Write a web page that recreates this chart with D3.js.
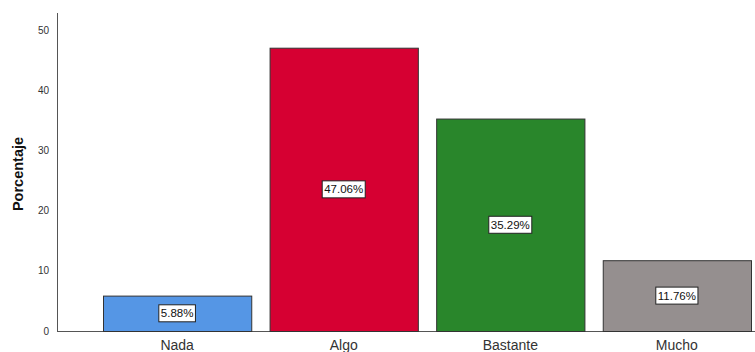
<!DOCTYPE html>
<html><head><meta charset="utf-8">
<script src="https://cdn.jsdelivr.net/npm/d3@7"></script>
<style>body{margin:0;background:#fff}svg{display:block}</style>
</head><body>
<svg id="c" width="755" height="352"></svg>
<script>
const categories = ["Nada", "Algo", "Bastante", "Mucho"];
const values = [5.88, 47.06, 35.29, 11.76];
const colors = ["#5596e5", "#d60032", "#29862b", "#958f8f"];
const yTicks = [0, 10, 20, 30, 40, 50];

const svg = d3.select("#c");
const font = "Arial, 'Liberation Sans', sans-serif";
const x = d3.scaleBand().domain(categories).range([103, 751]).paddingInner(0.11).paddingOuter(0);
const y = d3.scaleLinear().domain([0, 50]).range([331, 30]);

// axes lines
svg.append("line").attr("x1", 57.5).attr("x2", 57.5).attr("y1", 13).attr("y2", 331.5)
  .attr("stroke", "#555").attr("stroke-width", 1);
svg.append("line").attr("x1", 57).attr("x2", 755).attr("y1", 331.5).attr("y2", 331.5)
  .attr("stroke", "#555").attr("stroke-width", 1);

// tick labels
svg.append("g").selectAll("text").data(yTicks).join("text")
  .attr("x", 49).attr("y", d => y(d)).attr("dy", "0.35em")
  .attr("text-anchor", "end").attr("font-family", font).attr("font-size", 10)
  .attr("fill", "#333").text(d => d);

// y title
svg.append("text").attr("transform", "translate(23,174) rotate(-90)")
  .attr("text-anchor", "middle").attr("font-family", font).attr("font-size", 14.5)
  .attr("font-weight", "bold").attr("fill", "#111").text("Porcentaje");

// bars
svg.append("g").selectAll("rect").data(values).join("rect")
  .attr("x", (d, i) => x(categories[i]) + 0.5)
  .attr("y", d => y(d) + 0.5)
  .attr("width", x.bandwidth())
  .attr("height", d => y(0) - y(d))
  .attr("fill", (d, i) => colors[i])
  .attr("stroke", "#333").attr("stroke-width", 1);

// category labels
svg.append("g").selectAll("text").data(categories).join("text")
  .attr("x", d => x(d) + x.bandwidth() / 2).attr("y", 350)
  .attr("text-anchor", "middle").attr("font-family", font).attr("font-size", 14)
  .attr("fill", "#333").text(d => d);

// value labels
const lab = svg.append("g").selectAll("g").data(values).join("g")
  .attr("transform", (d, i) => `translate(${x(categories[i]) + x.bandwidth() / 2},${(y(d) + y(0)) / 2})`);
lab.each(function(d) {
  const g = d3.select(this);
  const t = g.append("text").attr("text-anchor", "middle").attr("dy", "0.35em")
    .attr("font-family", font).attr("font-size", 11.5).attr("fill", "#111")
    .text(d.toFixed(2) + "%");
  const bb = t.node().getBBox();
  g.insert("rect", "text").attr("x", bb.x - 2).attr("y", -8.5).attr("width", bb.width + 4).attr("height", 17)
    .attr("fill", "#fff").attr("stroke", "#222").attr("stroke-width", 1);
});
</script>
</body></html>
